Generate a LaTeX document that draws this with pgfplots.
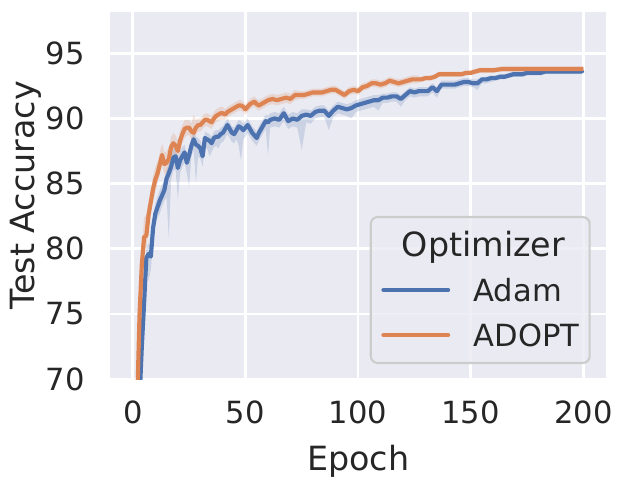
\documentclass[border=0pt]{standalone}
\usepackage{fontspec}
\setmainfont{DejaVu Sans}
\usepackage{pgfplots}
\pgfplotsset{compat=1.18}
\usepackage{pgfplotstable}
\usepgfplotslibrary{fillbetween}
\definecolor{sbblue}{HTML}{4C72B0}
\definecolor{sborange}{HTML}{DD8452}
\definecolor{sbbg}{HTML}{EAEAF2}
\definecolor{sbtext}{HTML}{262626}
\definecolor{sbframe}{HTML}{CCCCCC}

\pgfplotstableread{
ep m lo hi
1 55.0 2.0 2.0
2 62.5 1.5 1.5
3 68.5 1.2 1.2
4 72.5 1.2 1.0
5 75.8 1.2 0.9
6 79.3 1.0 0.8
7 79.6 2.0 0.8
8 79.4 1.0 0.8
9 81.6 0.9 0.8
10 82.7 0.8 0.8
11 83.2 0.8 0.8
12 83.7 1.0 0.8
13 84.1 0.8 0.8
14 84.5 0.8 0.7
15 85.4 1.5 0.7
16 85.8 5.0 0.7
17 86.3 1.0 0.7
18 87.0 1.0 0.7
19 87.1 1.0 0.7
20 86.2 2.4 0.7
21 86.8 1.0 0.7
22 87.1 0.8 0.7
23 87.4 0.8 0.6
24 86.6 0.8 0.6
25 87.2 2.4 0.6
26 87.9 0.8 0.6
27 88.4 0.8 0.6
28 88.0 2.9 0.6
29 87.9 0.8 0.6
30 87.7 0.8 0.6
31 87.1 0.8 0.6
32 88.5 0.7 0.5
33 88.4 0.7 0.5
34 88.3 1.2 0.5
35 88.1 0.7 0.5
36 88.5 0.7 0.5
37 88.6 0.7 0.5
38 88.6 0.9 0.5
39 88.8 0.7 0.5
40 88.9 0.7 0.5
41 89.2 0.7 0.5
42 89.5 0.7 0.5
43 89.2 0.7 0.5
44 88.9 0.7 0.5
45 88.8 0.7 0.5
46 89.1 0.7 0.5
47 89.4 1.5 0.5
48 89.3 2.5 0.5
49 89.1 0.7 0.5
50 89.3 0.7 0.5
51 89.5 0.6 0.5
52 89.2 0.6 0.5
53 88.9 0.6 0.5
54 88.7 0.6 0.5
55 88.5 0.6 0.5
56 88.9 0.6 0.5
57 89.2 0.6 0.5
58 89.5 0.6 0.5
59 89.8 0.6 0.5
60 89.7 2.5 0.5
61 89.9 0.6 0.5
63 90.0 0.6 0.5
65 89.9 0.6 0.5
67 90.4 0.6 0.5
69 89.8 0.6 0.5
71 90.0 0.6 0.5
73 89.9 0.6 0.5
75 90.2 2.6 0.5
77 90.3 0.6 0.4
79 90.2 0.6 0.4
81 90.5 0.5 0.4
83 90.6 0.5 0.4
85 90.6 0.5 0.4
87 90.2 1.1 0.4
89 90.6 0.5 0.4
91 90.9 0.5 0.4
93 90.8 0.5 0.4
95 90.7 0.5 0.4
97 90.8 0.8 0.4
99 91.0 0.5 0.4
101 91.1 0.5 0.4
103 91.2 0.5 0.4
105 91.3 0.5 0.4
107 91.4 0.5 0.4
109 91.4 0.8 0.4
111 91.6 0.4 0.3
113 91.6 0.4 0.3
115 91.7 0.4 0.3
117 91.7 0.4 0.3
119 91.5 0.6 0.3
121 91.8 0.4 0.3
123 92.1 0.4 0.3
125 92.0 0.4 0.3
127 92.1 0.4 0.3
129 92.1 0.4 0.3
131 92.1 0.4 0.3
133 92.4 0.4 0.3
135 92.1 0.5 0.3
137 92.6 0.3 0.3
139 92.6 0.3 0.3
141 92.6 0.3 0.3
143 92.6 0.3 0.3
145 92.7 0.3 0.3
147 92.8 0.3 0.3
149 92.8 0.3 0.3
151 92.7 0.3 0.3
153 92.7 0.5 0.3
155 93.0 0.3 0.2
157 93.0 0.3 0.2
159 93.1 0.3 0.2
161 93.1 0.2 0.2
163 93.2 0.2 0.2
165 93.2 0.2 0.2
167 93.3 0.2 0.2
169 93.4 0.2 0.2
171 93.4 0.2 0.2
173 93.4 0.2 0.2
175 93.5 0.2 0.2
177 93.5 0.2 0.2
179 93.5 0.2 0.2
181 93.5 0.2 0.2
183 93.6 0.2 0.2
185 93.6 0.2 0.2
187 93.6 0.2 0.2
189 93.6 0.2 0.2
191 93.6 0.2 0.2
193 93.6 0.2 0.2
195 93.6 0.2 0.2
197 93.6 0.2 0.2
199 93.6 0.2 0.2
200 93.7 0.2 0.2
}\adam

\pgfplotstableread{
ep m lo hi
1 58.0 2.0 2.0
2 68.5 1.5 1.5
3 75.0 1.5 1.5
4 78.8 1.2 1.2
5 80.9 1.0 1.5
6 81.0 1.0 1.6
7 82.6 1.0 1.0
8 83.6 0.9 1.0
9 84.6 0.9 1.0
10 85.3 0.9 1.0
11 85.8 0.8 0.9
12 86.5 0.8 0.9
13 87.2 0.8 0.9
14 86.5 0.8 0.9
15 86.6 0.8 0.9
16 86.9 1.0 0.9
17 87.8 0.8 0.8
18 88.1 0.8 0.8
19 87.9 0.8 0.8
20 87.5 0.7 0.8
21 88.3 0.7 0.8
22 88.8 0.7 0.7
23 89.2 0.7 0.7
24 89.3 0.6 0.6
25 89.3 0.6 0.6
26 89.0 0.6 0.6
27 88.9 0.6 1.4
28 89.3 0.6 0.6
29 89.5 0.5 0.5
30 89.5 0.5 0.5
31 89.7 0.5 0.5
32 89.9 0.5 0.5
33 89.9 0.5 0.5
34 89.8 0.5 0.5
35 89.7 0.5 0.5
36 90.0 0.5 0.5
37 90.2 0.5 0.5
38 90.3 0.5 0.5
39 90.4 0.5 0.5
40 90.4 0.5 0.5
41 90.3 0.4 0.4
42 90.5 0.4 0.4
43 90.6 0.4 0.4
44 90.7 0.4 0.4
45 90.8 0.4 0.4
46 90.9 0.4 0.4
47 91.0 0.4 0.4
48 91.0 0.4 0.4
49 90.9 0.4 0.4
50 90.7 0.4 0.4
51 90.9 0.4 0.4
52 91.1 0.4 0.4
53 91.2 0.4 0.4
54 91.3 0.4 0.4
55 91.1 0.4 0.4
56 91.0 0.4 0.4
57 91.1 0.4 0.4
58 91.2 0.4 0.4
59 91.3 0.4 0.4
60 91.4 0.4 0.4
62 91.5 0.4 0.4
64 91.4 0.4 0.4
66 91.5 0.4 0.4
68 91.6 0.4 0.4
70 91.5 0.4 0.4
72 91.8 0.4 0.4
74 91.8 0.3 0.3
76 91.8 0.3 0.3
78 91.9 0.3 0.3
80 92.0 0.3 0.3
82 92.0 0.3 0.3
84 92.0 0.3 0.3
86 92.1 0.3 0.3
88 92.2 0.3 0.3
90 92.2 0.3 0.3
92 92.0 0.3 0.3
94 91.8 0.3 0.3
96 92.1 0.3 0.3
98 92.2 0.3 0.3
100 92.1 0.3 0.3
102 92.4 0.3 0.3
104 92.5 0.3 0.3
106 92.7 0.3 0.3
108 92.7 0.3 0.3
110 92.6 0.3 0.3
112 92.7 0.3 0.3
114 92.9 0.3 0.3
116 92.8 0.3 0.3
118 92.7 0.3 0.3
120 92.8 0.3 0.3
122 92.9 0.3 0.3
124 93.0 0.3 0.3
126 93.0 0.3 0.3
128 93.0 0.2 0.2
130 93.1 0.2 0.2
132 93.1 0.2 0.2
134 93.2 0.2 0.2
136 93.4 0.2 0.2
138 93.4 0.2 0.2
140 93.4 0.2 0.2
142 93.4 0.2 0.2
144 93.4 0.2 0.2
146 93.4 0.2 0.2
148 93.5 0.2 0.2
150 93.5 0.2 0.2
152 93.6 0.2 0.2
154 93.7 0.2 0.2
156 93.7 0.2 0.2
158 93.7 0.2 0.2
160 93.7 0.2 0.2
164 93.8 0.2 0.2
168 93.8 0.2 0.2
172 93.8 0.2 0.2
176 93.8 0.2 0.2
180 93.8 0.2 0.2
184 93.8 0.2 0.2
188 93.8 0.2 0.2
192 93.8 0.2 0.2
196 93.8 0.2 0.2
200 93.8 0.2 0.2
}\adopt

\begin{document}
\begin{tikzpicture}
\begin{axis}[
  at={(0pt,0pt)}, anchor=south west,
  scale only axis, width=356.8pt, height=264.5pt,
  xmin=-10, xmax=210, ymin=70, ymax=98.2,
  xtick={0,50,100,150,200}, ytick={70,75,80,85,90,95},
  axis background/.style={fill=sbbg},
  axis line style={draw=none},
  major tick length=0pt,
  grid=major, major grid style={white, line width=2pt},
  /pgf/number format/assume math mode=true,
  tick label style={font=\fontsize{22}{26}\selectfont, text=sbtext},
  xticklabel style={anchor=base, yshift=-31.9pt, inner sep=0pt},
  yticklabel style={anchor=east, xshift=-18.2pt, inner sep=0pt},
  xlabel={Epoch}, ylabel={Test Accuracy},
  label style={font=\fontsize{24}{29}\selectfont, text=sbtext, inner sep=0pt},
  xlabel style={at={(axis description cs:0.5,-0.2478)}, anchor=base},
  ylabel style={at={(axis description cs:-0.152,0.5)}, anchor=base},
  legend image code/.code={\draw[#1, line cap=round] (0pt,0pt) -- (46.6pt,0pt);},
  legend cell align=left,
  legend style={at={(0.9695,0.0408)}, anchor=south east,
    draw=sbframe, line width=1.5pt, fill=sbbg, fill opacity=0.8, draw opacity=1, text opacity=1,
    rounded corners=5pt, font=\fontsize{22}{26}\selectfont, text=sbtext,
    inner xsep=7.6pt, inner ysep=11.8pt, row sep=15.7pt, column sep=16.8pt,
    nodes={inner sep=0pt, text height=16.7pt, text depth=0pt}},
]
\addlegendimage{empty legend}
\addlegendentry{\hspace*{-51.6pt}\fontsize{24}{29}\selectfont Optimizer}

\addplot[name path=alo, draw=none, forget plot] table[x=ep, y expr=\thisrow{m}-\thisrow{lo}] {\adam};
\addplot[name path=ahi, draw=none, forget plot] table[x=ep, y expr=\thisrow{m}+\thisrow{hi}] {\adam};
\addplot[sbblue, fill opacity=0.2, draw=none, forget plot] fill between[of=alo and ahi];
\addplot[sbblue, line width=3pt, line join=round] table[x=ep, y=m] {\adam};
\addlegendentry{Adam}

\addplot[name path=olo, draw=none, forget plot] table[x=ep, y expr=\thisrow{m}-\thisrow{lo}] {\adopt};
\addplot[name path=ohi, draw=none, forget plot] table[x=ep, y expr=\thisrow{m}+\thisrow{hi}] {\adopt};
\addplot[sborange, fill opacity=0.2, draw=none, forget plot] fill between[of=olo and ohi];
\addplot[sborange, line width=3pt, line join=round] table[x=ep, y=m] {\adopt};
\addlegendentry{ADOPT}
\end{axis}
\pgfresetboundingbox
\useasboundingbox (-79.4pt,-71.3pt) rectangle (367.7pt,272.9pt);
\end{tikzpicture}
\end{document}
